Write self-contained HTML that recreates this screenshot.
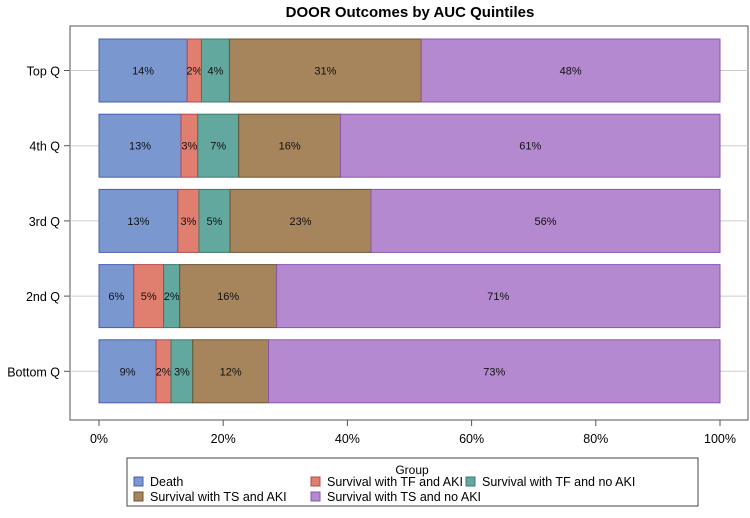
<!DOCTYPE html>
<html><head><meta charset="utf-8"><style>
body{margin:0;background:#fff;font-family:"Liberation Sans","Noto Sans CJK KR",sans-serif;}
svg text{font-family:"Liberation Sans","Noto Sans CJK KR",sans-serif;}
</style></head><body>
<svg id="chart" width="750" height="513" xmlns="http://www.w3.org/2000/svg">
<text x="410" y="17" text-anchor="middle" font-size="15" font-weight="bold" fill="#000">DOOR Outcomes by AUC Quintiles</text>
<rect x="70" y="26" width="678" height="394" fill="none" stroke="#555" stroke-width="1"/>
<g id="grid"></g><g id="bars"></g><g id="axes"></g>
<g>
<rect x="127" y="458" width="571" height="48" fill="#fff" stroke="#444"/>
<text x="412" y="474" text-anchor="middle" font-size="12">Group</text>
<g id="legend"></g>
</g>
</svg>
<script>
const categories = ["Top Q","4th Q","3rd Q","2nd Q","Bottom Q"];
const groups = ["Death","Survival with TF and AKI","Survival with TF and no AKI","Survival with TS and AKI","Survival with TS and no AKI"];
const colors = ["#7b97d0","#e07e70","#62a89e","#a6845c","#b489cf"];
const strokes = ["#4a5fb0","#b84a4a","#3a7a70","#6e5430","#8a55b0"];
const death = [14.2,13.2,12.7,5.6,9.2];
const tfAki = [2.3,2.7,3.4,4.8,2.4];
const tfNoAki = [4.5,6.6,5.0,2.6,3.5];
const tsAki = [30.9,16.4,22.7,15.6,12.2];
const tsNoAki = [48.1,61.1,56.2,71.4,72.7];
const labels = [["14%","2%","4%","31%","48%"],["13%","3%","7%","16%","61%"],["13%","3%","5%","23%","56%"],["6%","5%","2%","16%","71%"],["9%","2%","3%","12%","73%"]];
const xTicks = [0,20,40,60,80,100];

const NS="http://www.w3.org/2000/svg";
const x = v => 99 + v*(720-99)/100;
const y = i => 70.5 + i*75.2;
const bh = 63;
function mk(tag, attrs, parent, txt){const e=document.createElementNS(NS,tag);for(const k in attrs)e.setAttribute(k,attrs[k]);if(txt!==undefined)e.textContent=txt;parent.appendChild(e);return e;}
const gBars=document.getElementById('bars'),gAx=document.getElementById('axes'),gGrid=document.getElementById('grid'),gLeg=document.getElementById('legend');
const series=[death,tfAki,tfNoAki,tsAki,tsNoAki];
categories.forEach((c,i)=>{
  const cy=y(i);
  const gl=mk('line',{x1:70,x2:748,y1:cy,y2:cy,stroke:'#ccc'},gGrid);
  
  
  const tk=mk('line',{x1:64,x2:70,y1:cy,y2:cy,stroke:'#555'},gAx);
  
  
  const t=mk('text',{x:60,y:cy+5,'text-anchor':'end','font-size':'12.5'},gAx,c);
  
  
  let acc=0;
  series.forEach((s,j)=>{
    const v=s[i];
    const r=mk('rect',{x:x(acc),y:cy-bh/2,width:x(acc+v)-x(acc),height:bh,fill:colors[j],stroke:strokes[j],'stroke-width':1},gBars);
    
    
    const lt=mk('text',{x:(x(acc)+x(acc+v))/2,y:cy+4,'text-anchor':'middle','font-size':'11',fill:'#111'},gBars,labels[i][j]);
    
    
    acc+=v;
  });
});
xTicks.forEach(v=>{
  const tk=mk('line',{x1:x(v),x2:x(v),y1:420,y2:426,stroke:'#555'},gAx);
  
  
  const t=mk('text',{x:x(v),y:443,'text-anchor':'middle','font-size':'12.5'},gAx,v+'%');
  
  
});
const lp=[[134,481],[311,481],[466,481],[134,496],[311,496]];
groups.forEach((g,j)=>{
  const r=mk('rect',{x:lp[j][0],y:lp[j][1]-4,width:9,height:9,fill:colors[j],stroke:strokes[j]},gLeg);
  
  
  const t=mk('text',{x:lp[j][0]+16,y:lp[j][1]+5,'font-size':'12.5'},gLeg,g);
  
  
});
</script>
</body></html>
